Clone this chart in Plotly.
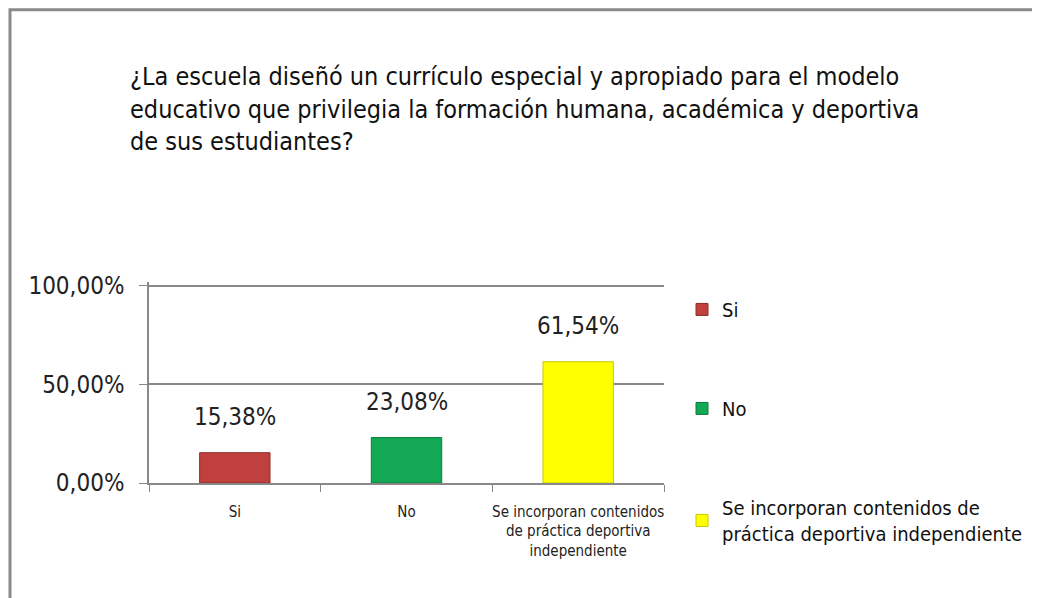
import plotly.graph_objects as go

categories = ["Si", "No", "Se incorporan contenidos<br>de práctica deportiva<br>independiente"]
legend_names = ["Si", "No", "Se incorporan contenidos de<br>práctica deportiva independiente"]
values = [15.38, 23.08, 61.54]
labels = ["15,38%", "23,08%", "61,54%"]
colors = ["#C0403D", "#12A854", "#FFFF00"]
edge_colors = ["#8B2E2B", "#0E7A3E", "#C8C800"]
tick_vals = [0, 50, 100]
tick_text = ["0,00%", "50,00%", "100,00%"]
title_text = ("¿La escuela diseñó un currículo especial y apropiado para el modelo<br>"
              "educativo que privilegia la formación humana, académica y deportiva<br>"
              "de sus estudiantes?")

FONT = "Liberation Sans Narrow, DejaVu Sans Condensed, Liberation Sans, Arial, sans-serif"

# page body has an 8px margin, so work in reference coords minus 8
OFF = 8
W, H = 1040 - OFF, 598 - OFF
Y_MAX = 102.0
px_per_unit = (483 - 286) / 100.0
L, R = 149 - OFF, 664 - OFF
B = 483 - OFF
T = B - Y_MAX * px_per_unit
pw, ph = R - L, B - T

fig = go.Figure()
for i in range(len(categories)):
    fig.add_trace(go.Bar(
        x=[categories[i]], y=[values[i]], name=legend_names[i],
        marker=dict(color=colors[i], line=dict(color=edge_colors[i], width=1)),
        width=0.41, legendgroup=str(i),
    ))
    fig.add_annotation(x=categories[i], y=values[i], text=labels[i], showarrow=False,
                       yanchor="bottom", yshift=20, font=dict(size=24, family=FONT, color="#222"))

fig.add_shape(type="rect", xref="paper", yref="paper",
              x0=(10 - OFF - L) / pw, x1=(1060 - L) / pw,
              y0=(B - 640) / ph, y1=(B - (10 - OFF)) / ph,
              line=dict(color="#8a8a8a", width=3), layer="below")

fig.update_layout(
    width=W, height=H,
    margin=dict(l=L, r=W - R, t=T, b=H - B, autoexpand=False),
    paper_bgcolor="white", plot_bgcolor="white",
    barmode="overlay",
    font=dict(family=FONT, color="#111"),
    title=dict(text=title_text, x=(130 - OFF) / W, xanchor="left", y=1 - 77 / H, yanchor="top",
               font=dict(size=25, family=FONT, color="#111")),
    showlegend=True,
    legend=dict(x=(682 - OFF - L) / pw, xanchor="left", y=(B - (290 - OFF)) / ph, yanchor="top",
                font=dict(size=20, family=FONT, color="#111"),
                tracegroupgap=70, itemwidth=30, bgcolor="rgba(0,0,0,0)", maxheight=400),
    xaxis=dict(showline=True, linecolor="#888", linewidth=1.5, ticks="outside",
               tickson="boundaries", ticklen=7, tickcolor="#888", tickangle=0,
               automargin=False, ticklabelstandoff=14,
               tickfont=dict(size=15, family=FONT, color="#222"), showgrid=False),
    yaxis=dict(range=[0, Y_MAX], tickvals=tick_vals, ticktext=tick_text,
               showline=True, linecolor="#888", linewidth=1.5, ticks="outside",
               ticklen=8, tickcolor="#888", showgrid=True, gridcolor="#888", gridwidth=1.5,
               automargin=False, ticklabelstandoff=10,
               tickfont=dict(size=24, family=FONT, color="#222"), zeroline=False),
)

fig.write_html("out.html")
